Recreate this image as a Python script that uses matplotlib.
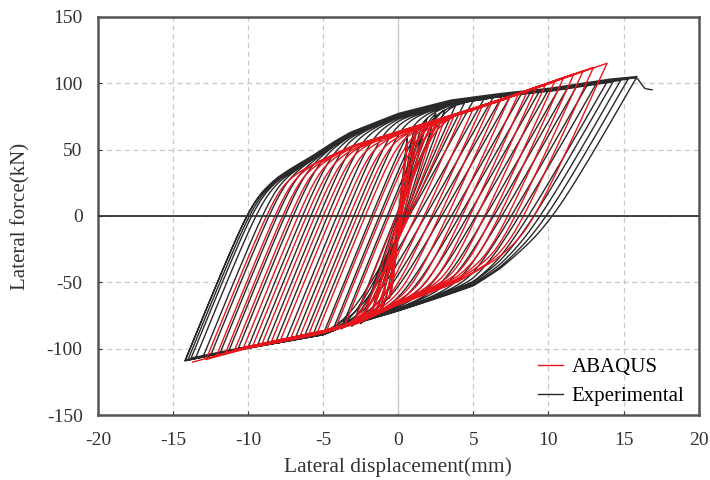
import numpy as np
import matplotlib.pyplot as plt

# cycle peaks (mm, kN)
abq_pos_d = [0.6, 1.2, 1.8, 2.5, 3.1, 3.7, 4.3, 5.0, 5.6, 6.2, 6.8, 7.4, 8.0, 8.6, 9.2, 9.8, 10.4, 11.0, 11.7, 12.3, 13.0, 13.9]
abq_pos_f = [55, 63, 67, 71, 73, 75, 78, 81, 83, 85, 87, 89, 92, 94, 97, 99, 101, 104, 107, 109, 112, 115]
abq_neg_d = [-0.6, -1.2, -1.8, -2.4, -3.0, -3.6, -4.2, -4.8, -5.4, -6.0, -6.6, -7.2, -7.9, -8.5, -9.1, -9.7, -10.3, -10.9, -11.5, -12.1, -12.8, -13.7]
abq_neg_f = [-62, -70, -75, -79, -81, -83, -85, -87, -88, -90, -92, -93, -95, -96, -97, -98, -99, -101, -103, -105, -108, -110]

exp_pos_d = [0.6, 1.2, 1.9, 2.5, 3.1, 3.8, 4.4, 5.0, 5.7, 6.3, 6.9, 7.5, 8.2, 8.8, 9.4, 10.0, 10.7, 11.3, 11.9, 12.6, 13.2, 13.9, 14.3, 14.8, 15.3, 15.9, 16.9]
exp_pos_f = [60, 68, 73, 77, 80, 83, 85, 87, 88, 89, 90, 91, 92, 93, 94, 95, 96, 97, 98, 99, 100, 101, 101, 102, 103, 105, 95]
exp_neg_d = [-0.6, -1.2, -1.9, -2.5, -3.1, -3.8, -4.4, -5.0, -5.7, -6.3, -6.9, -7.5, -8.2, -8.8, -9.4, -10.0, -10.7, -11.3, -11.9, -12.5, -13.0, -13.5, -13.8, -14.0, -14.2, -14.2]
exp_neg_f = [-62, -72, -78, -81, -83, -85, -87, -89, -90, -92, -93, -94, -96, -97, -98, -99, -101, -102, -104, -105, -106, -107, -107, -108, -109, -109]

# skeleton curves that the reloading / unloading branches bend into
abq_up_x = [-15, -12, -10, -8, -6, -4.5, -3, 0, 3.5, 6.8, 10.1, 13.9, 15]
abq_up_y = [-20, 0, 14, 29, 39, 46, 53, 63, 75, 87, 100, 115, 118]
abq_lo_x = [-15, -13.7, -10.1, -5, -2.7, 0, 3.9, 6.5, 9, 11, 14]
abq_lo_y = [-115, -110, -99, -87, -80, -66, -50, -35, -17, 0, 30]

exp_up_x = [-15, -12.3, -10.3, -8, -5.7, -4.3, -3.2, 0, 3.5, 6.8, 10.1, 14.1, 15.9, 16.4, 16.9, 18]
exp_up_y = [-20, 0, 15, 31, 45, 55, 62, 76, 86, 91, 95, 102, 104, 96, 95, 94]
exp_lo_x = [-15, -14.2, -10, -5, -3.9, 0, 5, 6.8, 9.3, 11, 13, 16]
exp_lo_y = [-112, -109, -99, -89, -84, -71, -53, -41, -20, -5, 15, 55]

ROUND = 24.0


def branch(x0, y0, x1, y1, ex, ey, k):
    # straight branch of stiffness k, rounded into the skeleton curve
    x = np.linspace(x0, x1, 200)
    env = np.interp(x, ex, ey)
    env = env + (y1 - env[-1])
    k = max(k, 1.15 * abs((y1 - y0) / (x1 - x0)))
    line = y0 + k * (x - x0)
    sq = np.sqrt((line - env) ** 2 + ROUND ** 2)
    if x1 > x0:
        y = (line + env - sq) / 2
    else:
        y = (line + env + sq) / 2
    t = (x - x0) / (x1 - x0)
    y = y + (y0 - y[0]) * (1 - t) + (y1 - y[-1]) * t
    return x, y


def draw_loops(ax, pd_, pf, nd, nf, up, lo, k_re, k_un, color, lw, label):
    xs, ys = [np.array([0.0, pd_[0]])], [np.array([0.0, pf[0]])]
    for i in range(len(nd)):
        x, y = branch(pd_[i], pf[i], nd[i], nf[i], lo[0], lo[1], k_un)
        xs.append(x); ys.append(y)
        if i + 1 < len(pd_):
            x, y = branch(nd[i], nf[i], pd_[i + 1], pf[i + 1], up[0], up[1], k_re)
            xs.append(x); ys.append(y)
    ax.plot(np.concatenate(xs), np.concatenate(ys), color=color, lw=lw, label=label)


plt.rcParams['font.family'] = ['Liberation Serif', 'DejaVu Serif']
plt.rcParams['axes.unicode_minus'] = False

fig = plt.figure(figsize=(7.1, 4.8), dpi=100)
ax = fig.add_axes([0.138, 0.135, 0.846, 0.83])

ax.grid(True, ls=(0, (4, 3)), color='#c8c8c8', lw=0.9)
ax.axvline(0, color='#c8c8c8', lw=0.9)
ax.axhline(0, color='#333333', lw=1.3, zorder=3)

draw_loops(ax, exp_pos_d, exp_pos_f, exp_neg_d, exp_neg_f,
           (exp_up_x, exp_up_y), (exp_lo_x, exp_lo_y), 28, 20, '#2a2a2a', 1.0, 'Experimental')
draw_loops(ax, abq_pos_d, abq_pos_f, abq_neg_d, abq_neg_f,
           (abq_up_x, abq_up_y), (abq_lo_x, abq_lo_y), 28, 25, '#e8151c', 1.0, 'ABAQUS')

ax.set_xlim(-20, 20)
ax.set_ylim(-150, 150)
ax.set_xticks(range(-20, 21, 5))
ax.set_yticks(range(-150, 151, 50))
ax.tick_params(axis='x', labelsize=14, colors='#333333', direction='in', length=3, pad=12)
ax.tick_params(axis='y', labelsize=14, colors='#333333', direction='in', length=3, pad=11)
for s in ax.spines.values():
    s.set_color('#555555')
    s.set_linewidth(1.8)

ax.set_xlabel('Lateral displacement(mm)', fontsize=15.5, color='#333333', labelpad=6)
ax.set_ylabel('Lateral force(kN)', fontsize=15, color='#333333', labelpad=12)

h, l = ax.get_legend_handles_labels()
ax.legend(h[::-1], l[::-1], loc='lower right', bbox_to_anchor=(0.992, 0.0),
          frameon=False, fontsize=15, handlelength=1.2, handletextpad=0.4,
          labelspacing=0.45, borderaxespad=0.05)

fig.savefig('out.png', dpi=100)
